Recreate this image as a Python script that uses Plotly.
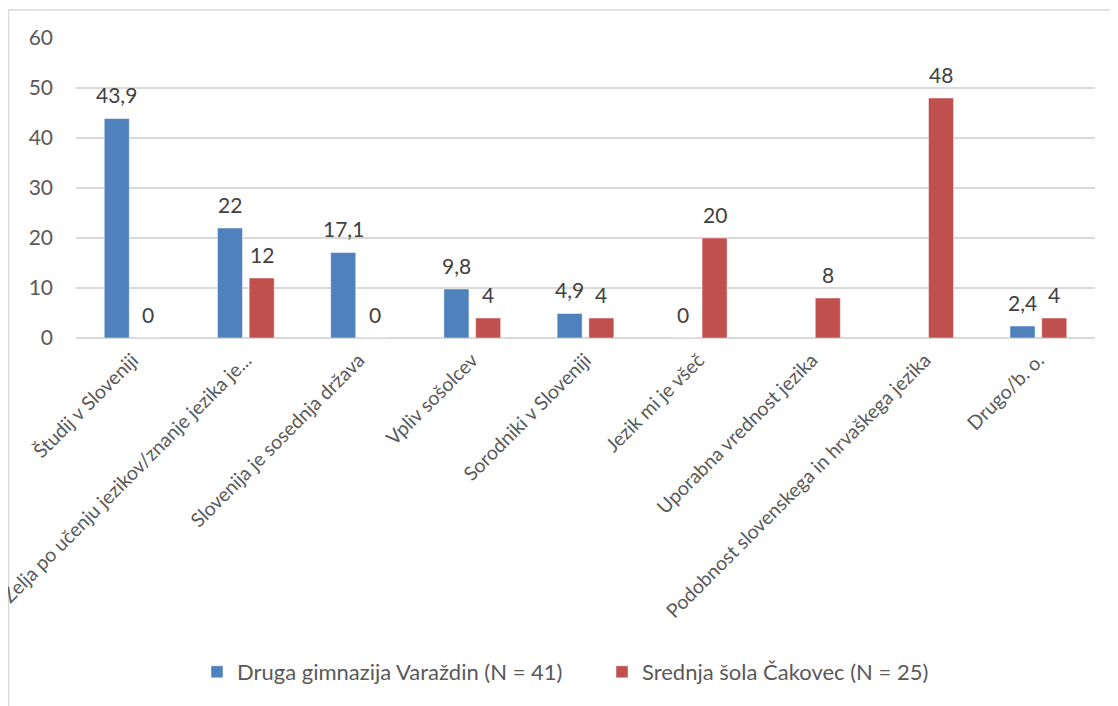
import plotly.graph_objects as go

categories = [
    "Študij v Sloveniji",
    "Želja po učenju jezikov/znanje jezika je...",
    "Slovenija je sosednja država",
    "Vpliv sošolcev",
    "Sorodniki v Sloveniji",
    "Jezik mi je všeč",
    "Uporabna vrednost jezika",
    "Podobnost slovenskega in hrvaškega jezika",
    "Drugo/b. o.",
]
varazdin = [43.9, 22, 17.1, 9.8, 4.9, 0, None, None, 2.4]
cakovec = [0, 12, 0, 4, 4, 20, 8, 48, 4]

name_varazdin = "Druga gimnazija Varaždin (N = 41)"
name_cakovec = "Srednja šola Čakovec (N = 25)"

BLUE = "#4F81BD"
RED = "#C0504D"
GRID = "#d9d9d9"
TEXT = "#595959"
LABEL = "#404040"

# the page body has an 8px margin, so the figure is a bit smaller than the window
W, H = 1110, 698
ML, MR, MT, MB = 68, 23, 30, 368
BARGAP = 0.44
FS = 21

fig = go.Figure()
fig.add_trace(go.Bar(x=categories, y=varazdin, name=name_varazdin,
                     marker=dict(color=BLUE, line=dict(color="rgba(255,255,255,0.6)", width=0.8))))
fig.add_trace(go.Bar(x=categories, y=cakovec, name=name_cakovec,
                     marker=dict(color=RED, line=dict(color="rgba(255,255,255,0.6)", width=0.8))))

# data labels, placed a bit above each bar like in Excel
cat_px = (W - ML - MR) / len(categories)
slot = (1 - BARGAP) * cat_px / 2


def fmt(v):
    return f"{v:g}".replace(".", ",")


for vals, shift in [(varazdin, -slot / 2), (cakovec, slot / 2)]:
    for c, v in zip(categories, vals):
        if v is None:
            continue
        fig.add_annotation(x=c, y=v, text=fmt(v), showarrow=False, xshift=shift, yshift=24,
                           font=dict(size=FS, color=LABEL))

# chart frame (partly cut off, as in the screenshot)
pw, ph = W - ML - MR, H - MT - MB
fig.add_shape(type="rect", xref="paper", yref="paper",
              x0=(0.5 - ML) / pw, x1=2, y0=-3, y1=(H - MB - 2) / ph,
              line=dict(color=GRID, width=1.5), fillcolor="rgba(0,0,0,0)", layer="below")

fig.update_layout(
    width=W, height=H,
    margin=dict(l=ML, r=MR, t=MT, b=MB, autoexpand=False),
    paper_bgcolor="white", plot_bgcolor="white",
    font=dict(family="Lato", size=FS, color=TEXT),
    barmode="group", bargap=BARGAP, bargroupgap=0.21,
    showlegend=True,
    legend=dict(orientation="h", x=(594 - ML) / pw, xanchor="center",
                y=(H - MB - 664) / ph, yanchor="middle",
                entrywidth=360, entrywidthmode="pixels",
                font=dict(size=22, color=TEXT)),
    xaxis=dict(tickangle=-45, showgrid=False, showline=False, ticks="",
               tickfont=dict(size=19.5), ticklabelstandoff=6, automargin=False),
    yaxis=dict(range=[0, 60], dtick=10, showgrid=True, gridcolor=GRID, gridwidth=1.5,
               zeroline=True, zerolinecolor=GRID, zerolinewidth=1.5,
               showline=False, ticks="", ticklabelstandoff=22, automargin=False),
)

fig.write_html("out.html")
